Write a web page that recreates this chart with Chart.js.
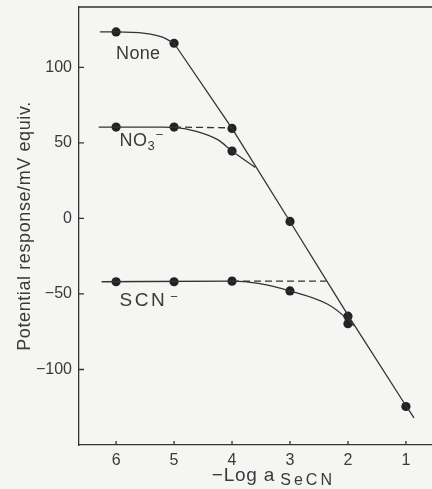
<!DOCTYPE html>
<html>
<head>
<meta charset="utf-8">
<script src="https://cdn.jsdelivr.net/npm/chart.js@4.4.0/dist/chart.umd.min.js"></script>
<style>
  html, body { margin: 0; padding: 0; background: #f5f5f3; }
  canvas { display: block; }
</style>
</head>
<body>
<canvas id="chart" width="432" height="489"></canvas>
<script>
// tick labels
const xTicks = [6, 5, 4, 3, 2, 1];
const yTicks = [100, 50, 0, -50, -100];

// measured points  (-log a, mV)
const noneX = [6, 5, 4, 3, 2, 1];
const noneY = [123.5, 116, 59.6, -2, -64.7, -124.5];
const no3X = [6, 5, 4];
const no3Y = [60.5, 60.5, 44.6];
const scnX = [6, 5, 4, 3, 2];
const scnY = [-41.9, -41.9, -41.5, -48, -69.7];

// drawn curves
const noneCurveX = [6.28, 6, 5.5, 5.2, 5];
const noneCurveY = [123.5, 123.5, 122.5, 120, 116];
const slopeX = [5, 4, 3, 2, 1, 0.86];
const slopeY = [116, 59.6, -2, -64, -124, -132];
const no3CurveX = [6.3, 5.2, 5, 4.6, 4.24, 4, 3.6];
const no3CurveY = [60.5, 60.5, 60.3, 57.5, 52, 44.6, 33.8];
const scnCurveX = [6.25, 4, 3.55, 3, 2.34, 2, 1.9];
const scnCurveY = [-41.9, -41.5, -43, -48, -57, -67, -71];
const no3DashX = [5, 4];
const no3DashY = [60.5, 60];
const scnDashX = [4, 2.37];
const scnDashY = [-41.5, -41.5];

const ink = '#333';
const FONT = '"Liberation Sans", Arial, sans-serif';

const pts = (xs, ys) => xs.map((v, i) => ({ x: v, y: ys[i] }));

function curve(xs, ys, opts) {
  return Object.assign({
    data: pts(xs, ys),
    showLine: true,
    pointRadius: 0,
    borderColor: ink,
    borderWidth: 1.3,
    cubicInterpolationMode: 'monotone'
  }, opts || {});
}

function dots(xs, ys) {
  return {
    data: pts(xs, ys),
    showLine: false,
    pointRadius: 4.6,
    pointBackgroundColor: '#222',
    pointBorderWidth: 0
  };
}

// draws a run of text pieces (for sub/superscripts)
function textRun(ctx, parts, x, y) {
  parts.forEach(p => {
    ctx.font = p.size + 'px ' + FONT;
    ctx.letterSpacing = (p.ls || 0) + 'px';
    ctx.fillText(p.t, x, y + (p.dy || 0));
    x += ctx.measureText(p.t).width + (p.gap || 0);
  });
  ctx.letterSpacing = '0px';
}

const decor = {
  id: 'decor',
  afterDraw(chart) {
    const { ctx, chartArea: a, scales: { x, y } } = chart;
    ctx.save();
    ctx.strokeStyle = ink;
    ctx.lineWidth = 1.3;
    ctx.beginPath();
    ctx.moveTo(a.left, a.top);
    ctx.lineTo(a.right, a.top);
    x.ticks.forEach(t => {
      const px = x.getPixelForValue(t.value);
      ctx.moveTo(px, a.bottom);
      ctx.lineTo(px, a.bottom - 4);
    });
    y.ticks.forEach(t => {
      const py = y.getPixelForValue(t.value);
      ctx.moveTo(a.left, py);
      ctx.lineTo(a.left + 5, py);
    });
    ctx.stroke();

    ctx.fillStyle = '#3a3a3a';
    ctx.textAlign = 'left';
    ctx.textBaseline = 'alphabetic';

    // series labels
    textRun(ctx, [{ t: 'None', size: 18, ls: 0.3 }], x.getPixelForValue(6), y.getPixelForValue(105.8));
    textRun(ctx, [
      { t: 'NO', size: 18, ls: 0.5 },
      { t: '3', size: 13, dy: 4, gap: 1 },
      { t: '\u2212', size: 13, dy: -7 }
    ], x.getPixelForValue(5.94), y.getPixelForValue(47.9));
    textRun(ctx, [
      { t: 'SCN', size: 19, ls: 2.5, gap: 3 },
      { t: '\u2212', size: 13, dy: -5 }
    ], x.getPixelForValue(5.94), y.getPixelForValue(-58));

    // x title
    textRun(ctx, [
      { t: '\u2212Log', size: 19, ls: 0.8, gap: 6 },
      { t: 'a', size: 19, gap: 6 },
      { t: 'SeCN', size: 16, dy: 4, ls: 3 }
    ], x.getPixelForValue(4.35), 481);

    // y title
    ctx.save();
    ctx.translate(24, (a.top + a.bottom) / 2);
    ctx.rotate(-Math.PI / 2);
    ctx.textAlign = 'center';
    ctx.font = '18px ' + FONT;
    ctx.letterSpacing = '0.6px';
    ctx.fillText('Potential response/mV equiv.', 0, 6);
    ctx.restore();
    ctx.restore();
  }
};

new Chart(document.getElementById('chart'), {
  type: 'scatter',
  data: {
    datasets: [
      curve(noneCurveX, noneCurveY),
      curve(slopeX, slopeY, { cubicInterpolationMode: 'default', tension: 0 }),
      curve(no3CurveX, no3CurveY),
      curve(scnCurveX, scnCurveY),
      curve(no3DashX, no3DashY, { borderDash: [7, 4], tension: 0 }),
      curve(scnDashX, scnDashY, { borderDash: [7, 4], tension: 0 }),
      dots(noneX, noneY),
      dots(no3X, no3Y),
      dots(scnX, scnY)
    ]
  },
  options: {
    responsive: false,
    animation: false,
    devicePixelRatio: 1,
    layout: { autoPadding: false, padding: { top: 7, right: 0, left: 0, bottom: 0 } },
    plugins: { legend: { display: false }, tooltip: { enabled: false } },
    scales: {
      x: {
        type: 'linear',
        reverse: true,
        min: 0.55,
        max: 6.64,
        afterBuildTicks: s => { s.ticks = xTicks.map(v => ({ value: v })); },
        afterFit: s => { s.height = 44; s.paddingLeft = 0; s.paddingRight = 0; },
        grid: { display: false, drawTicks: false },
        border: { display: true, color: ink, width: 1.3 },
        ticks: { color: '#3a3a3a', padding: 6, font: { family: FONT, size: 16 } }
      },
      y: {
        min: -150,
        max: 140,
        afterBuildTicks: s => { s.ticks = yTicks.map(v => ({ value: v })); },
        afterFit: s => { s.width = 79; s.paddingTop = 0; s.paddingBottom = 0; },
        grid: { display: false, drawTicks: false },
        border: { display: true, color: ink, width: 1.3 },
        ticks: {
          color: '#3a3a3a',
          padding: 7,
          font: { family: FONT, size: 16 },
          callback: v => v < 0 ? '\u2212' + Math.abs(v) : String(v)
        }
      }
    }
  },
  plugins: [decor]
});
</script>
</body>
</html>
